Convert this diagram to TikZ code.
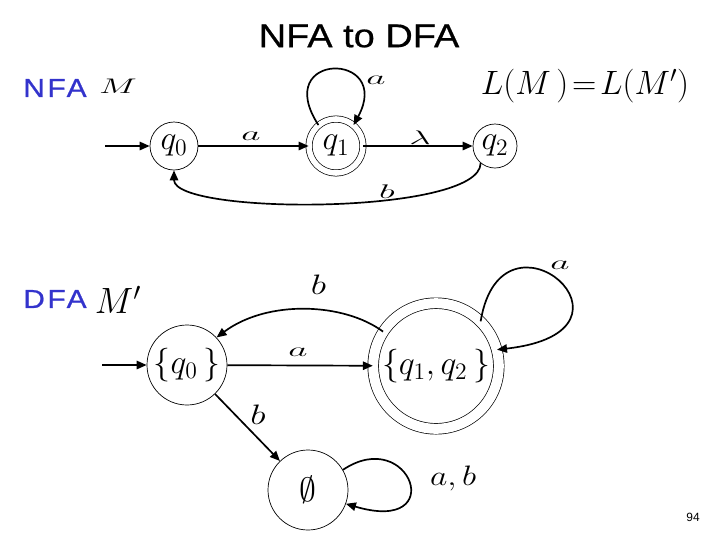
\RequirePackage{fix-cm}
\documentclass[tikz,border=0pt]{standalone}
\usepackage{amsmath,amssymb}
\usepackage{fontspec}
\setmainfont{Liberation Serif}
\newfontfamily\titrefont{Liberation Sans}[FakeStretch=1.15,FakeBold=0.6]
\newfontfamily\nomfont{Liberation Sans}[FakeStretch=1.15,FakeBold=0.8,LetterSpace=10]
\newfontfamily\pagefont{Liberation Sans}
\usetikzlibrary{arrows.meta}
\definecolor{bleunom}{RGB}{51,51,204}
\newcommand{\etire}[2]{\scalebox{#1}[1]{#2}}
\tikzset{
  >={Triangle[length=0.25cm,width=0.21cm]},
  etat/.style={draw, circle, line width=0.5pt, inner sep=0pt, minimum size=#1,
    font=\fontsize{24}{28}\selectfont},
  etat/.default=2cm,
  acceptant/.style={double, double distance=#1},
  fleche/.style={->, line width=1.2pt},
  etiq/.style={inner sep=0pt, font=\fontsize{14}{16}\selectfont},
  etiqgrande/.style={inner sep=0pt, font=\fontsize{20}{24}\selectfont},
  titre/.style={inner sep=0pt, font=\titrefont\fontsize{23.5}{28}\selectfont},
  nom/.style={inner sep=0pt, text=bleunom, font=\nomfont\fontsize{18.5}{22}\selectfont},
}

\begin{document}
\begin{tikzpicture}
  \useasboundingbox (0,0) rectangle (18,-13.5);
  % Titre
  \node[titre] (titre) at (8.975,-0.9) {NFA to DFA};
  % Partie 1 : NFA
  \node[nom, anchor=west] (nfa) at (0.575,-2.2) {NFA};
  \node[etiq, font=\fontsize{15}{18}\selectfont] (m) at (2.95,-2.15) {\etire{1.7}{$M$}};
  \node[inner sep=0pt, font=\fontsize{24}{30}\selectfont] (langage) at (14.625,-2.15) {$L(M\,)\!=\!L(M')$};
  \coordinate (debut1) at (2.625,-3.65);
  \node[etat=1.2cm] (q0) at (4.35,-3.65) {$q_0$};
  \node[etat=1.35cm, acceptant=0.14cm] (q1) at (8.4,-3.65) {$q_1$};
  \node[etat=1.1cm] (q2) at (12.375,-3.65) {$q_2$};
  \draw[fleche] (debut1) -- (q0);
  \draw[fleche] (q0) -- (q1);
  \draw[fleche] (q1) -- (q2);
  \draw[fleche] (q1.130) .. controls +(-1.2,1.85) and +(1.0,1.85) .. (q1.50);
  \draw[fleche] (q2.230) .. controls +(0,-1.3) and +(0,-1.125) .. (q0.south);
  \node[etiq] (a1) at (6.275,-3.4) {\etire{1.9}{$a$}};
  \node[etiq] (lambda1) at (10.5,-3.45) {\etire{1.9}{$\lambda$}};
  \node[etiq] (a2) at (9.4,-2.0) {\etire{1.9}{$a$}};
  \node[etiq] (b1) at (9.675,-4.78) {\etire{1.9}{$b$}};
  % Partie 2 : DFA
  \node[nom, anchor=west] (dfa) at (0.575,-7.475) {DFA};
  \node[inner sep=0pt, font=\fontsize{26}{30}\selectfont] (mp) at (2.95,-7.5) {$M'$};
  \coordinate (debut2) at (2.55,-9.125);
  \node[etat=2cm] (s0) at (4.675,-9.125) {$\{q_0\,\}$};
  \node[etat=3.14cm, acceptant=0.25cm] (s12) at (10.9,-9.15) {$\{q_1,q_2\,\}$};
  \node[etat=2cm] (vide) at (7.7,-12.25) {$\emptyset$};
  \draw[fleche] (debut2) -- (s0);
  \draw[fleche] (s0) -- (s12);
  \draw[fleche] (s12.147) .. controls +(-0.975,0.725) and +(1.275,0.95) .. (s0.43);
  \draw[fleche] (s12.45) .. controls +(0.525,3.2) and +(4.08,0.46) .. (s12.15);
  \draw[fleche] (s0) -- (vide);
  \draw[fleche] (vide.30) .. controls +(1.675,1.125) and +(2.6,-0.775) .. (vide.-20);
  \node[etiqgrande] (b2) at (7.96,-7.12) {\etire{1.3}{$b$}};
  \node[etiq] (a3) at (7.45,-8.8) {\etire{1.9}{$a$}};
  \node[etiq] (a4) at (14.0,-6.63) {\etire{1.9}{$a$}};
  \node[etiqgrande] (b3) at (6.45,-10.375) {\etire{1.3}{$b$}};
  \node[etiqgrande] (ab) at (11.33,-11.95) {\etire{1.2}{$a,b$}};
  % Numero de page
  \node[inner sep=0pt, font=\pagefont\fontsize{8.5}{10}\selectfont] (page) at (17.325,-12.925) {94};
\end{tikzpicture}
\end{document}
